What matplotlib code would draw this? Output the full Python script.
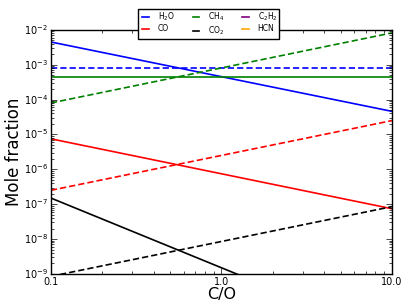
import matplotlib
matplotlib.use("Agg")
import matplotlib.pyplot as plt
from matplotlib.lines import Line2D
from matplotlib.ticker import FixedLocator, FixedFormatter

plt.style.use("classic")
plt.rcParams["mathtext.fontset"] = "dejavusans"
plt.rcParams["font.family"] = "DejaVu Sans"

co = [0.1, 10.0]

# solid / dashed pairs, values at C/O = 0.1 and 10
h2o_solid = [4.5e-3, 4.6e-5]
h2o_dash = [8.0e-4, 8.0e-4]
ch4_solid = [4.5e-4, 4.5e-4]
ch4_dash = [8.0e-5, 8.2e-3]
co_solid = [7.5e-6, 7.4e-8]
co_dash = [2.5e-7, 2.5e-5]
co2_solid = [1.5e-7, 1.5e-11]
co2_dash = [8.5e-10, 8.5e-8]

species = ["H$_2$O", "CO", "CH$_4$", "CO$_2$", "C$_2$H$_2$", "HCN"]
colors = ["b", "r", "g", "k", "purple", "orange"]

dash = (0, (4.5, 2.2))

fig = plt.figure(figsize=(4.07, 3.05), dpi=100, facecolor="white")
ax = fig.add_axes([0.125, 0.102, 0.838, 0.8])

ax.plot(co, h2o_solid, color="b", lw=1.2)
ax.plot(co, h2o_dash, color="b", lw=1.2, ls=dash)
ax.plot(co, ch4_solid, color="g", lw=1.2)
ax.plot(co, ch4_dash, color="g", lw=1.2, ls=dash)
ax.plot(co, co_solid, color="r", lw=1.2)
ax.plot(co, co_dash, color="r", lw=1.2, ls=dash)
ax.plot(co, co2_solid, color="k", lw=1.2)
ax.plot(co, co2_dash, color="k", lw=1.2, ls=dash)

ax.set_xscale("log")
ax.set_yscale("log")
ax.set_xlim(0.1, 10)
ax.set_ylim(1e-9, 1e-2)
ax.xaxis.set_major_locator(FixedLocator([0.1, 1.0, 10.0]))
ax.xaxis.set_major_formatter(FixedFormatter(["0.1", "1.0", "10.0"]))
ax.tick_params(labelsize=7, pad=2)
ax.set_xlabel("C/O", fontsize=11.5, labelpad=0)
ax.set_ylabel("Mole fraction", fontsize=12, labelpad=1)

handles = [Line2D([], [], color=c, lw=1.2, ls="-") for c in colors]
leg = ax.legend(handles, species, ncol=3, loc="upper center",
                bbox_to_anchor=(0.463, 1.086), fontsize=5.5, frameon=True,
                handlelength=1.45, handletextpad=0.9, borderpad=0.25,
                labelspacing=0.15, columnspacing=2.0, borderaxespad=0)
leg.get_frame().set_edgecolor("k")

fig.savefig("out.png", dpi=100, facecolor="white")
